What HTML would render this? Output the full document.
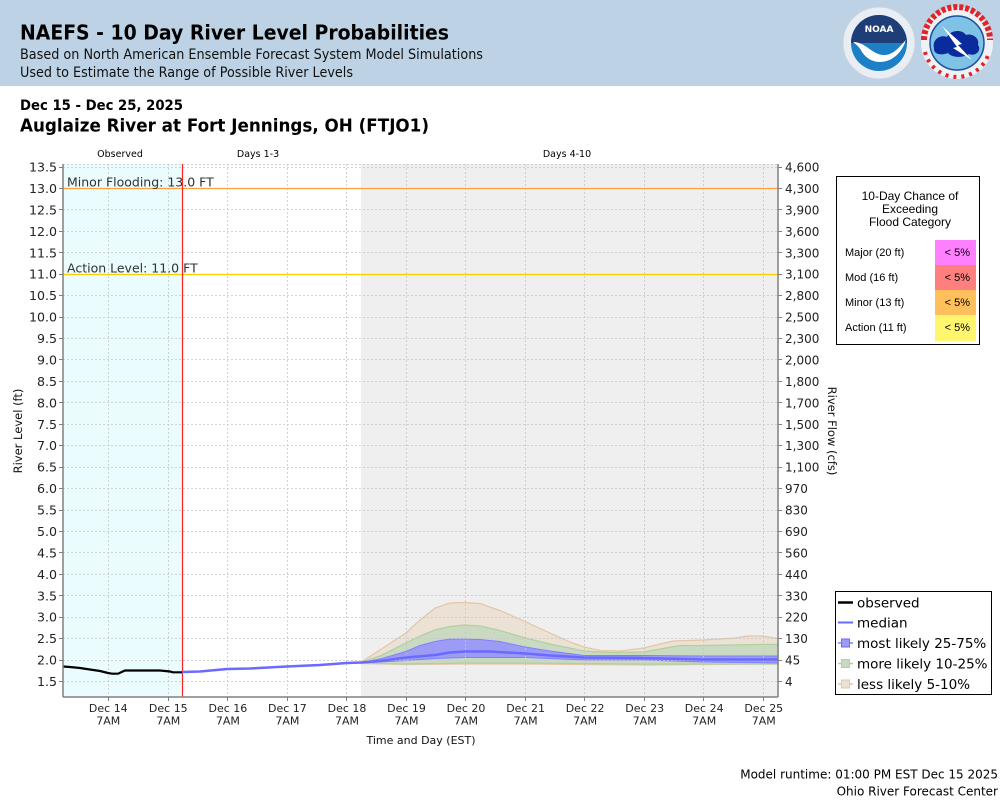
<!DOCTYPE html>
<html><head><meta charset="utf-8"><style>
html,body{margin:0;padding:0;background:#fff;}
svg{display:block;}
.dv{font-family:"DejaVu Sans","Liberation Sans",sans-serif;}
.ls{font-family:"Liberation Sans",Arial,sans-serif;}
</style></head><body>
<svg width="1000" height="800" viewBox="0 0 1000 800" xmlns="http://www.w3.org/2000/svg">
<!-- header -->
<rect x="0" y="0" width="1000" height="86" fill="#bdd3e5"/>
<text class="dv" x="20" y="39.5" font-size="20" font-weight="bold" fill="#000" textLength="429" lengthAdjust="spacingAndGlyphs">NAEFS - 10 Day River Level Probabilities</text>
<text class="dv" x="20" y="59" font-size="14" fill="#111" textLength="463" lengthAdjust="spacingAndGlyphs">Based on North American Ensemble Forecast System Model Simulations</text>
<text class="dv" x="20" y="77" font-size="14" fill="#111" textLength="333" lengthAdjust="spacingAndGlyphs">Used to Estimate the Range of Possible River Levels</text>
<!-- NOAA logo -->
<g>
<circle cx="879" cy="43" r="36" fill="#e8eef3" stroke="#c8d3dc" stroke-width="1"/>
<circle cx="879" cy="43" r="28" fill="#1b80c6"/>
<path d="M851,43 A28,28 0 0 1 907,43 Z" fill="#1f3e78"/>
<path d="M853,42 C866,42 872,55 884,55 C894,55 900,46 906,40 C902,52 893,62 880,62 C872,62 866,58 862,52 C860,48 857,45 853,42 Z" fill="#ffffff"/>
<text class="dv" x="879" y="32" font-size="9" font-weight="bold" fill="#fff" text-anchor="middle">NOAA</text>
</g>
<!-- NWS logo -->
<g>
<circle cx="957" cy="43" r="36" fill="#eef2f6"/>
<circle cx="957" cy="43" r="27" fill="#7ec3e6" stroke="#1d4f9c" stroke-width="1.5"/>
<path d="M934,48 C932,40 940,34 947,37 C950,30 962,29 966,35 C972,33 980,38 978,45 C982,50 976,57 969,54 C963,58 952,58 948,53 C941,56 933,54 934,48 Z" fill="#0a2b9c"/>
<path d="M942,26 L962,44 L958,45 L972,60 L953,48 L957,47 Z" fill="#ffffff"/>
<path d="M924,40 A33,33 0 0 1 990,40" fill="none" stroke="#e0242a" stroke-width="6" stroke-dasharray="4,2"/>
<path d="M925,52 A33,33 0 0 0 989,52" fill="none" stroke="#e0242a" stroke-width="4" stroke-dasharray="3,5"/>
</g>

<!-- titles -->
<text class="dv" x="20" y="110" font-size="14" font-weight="bold" fill="#000" textLength="163" lengthAdjust="spacingAndGlyphs">Dec 15 - Dec 25, 2025</text>
<text class="dv" x="20" y="131.7" font-size="18" font-weight="bold" fill="#000" textLength="409" lengthAdjust="spacingAndGlyphs">Auglaize River at Fort Jennings, OH (FTJO1)</text>

<text class="dv" x="120" y="157" font-size="9.5" fill="#000" text-anchor="middle">Observed</text>
<text class="dv" x="258" y="157" font-size="9.5" fill="#000" text-anchor="middle">Days 1-3</text>
<text class="dv" x="567" y="157" font-size="9.5" fill="#000" text-anchor="middle">Days 4-10</text>

<!-- plot backgrounds -->
<rect x="63" y="164" width="715" height="533" fill="#ffffff"/>
<rect x="63" y="164" width="119.5" height="533" fill="#eafcfd"/>
<rect x="361" y="164" width="417" height="533" fill="#efefef"/>

<!-- bands -->
<path d="M361,662 L380,650 L395,640 L406,633 L420,620 L435,608 L450,603 L465,602.5 L480,603.5 L500,610.5 L525,621.5 L550,633 L570,642 L584,647 L600,650.5 L620,651 L644,648 L660,644 L673,641 L703,640 L720,639 L735,638 L748,636 L763,636 L778,638.5 L778,664 L703,664.5 L644,665 L584,664.5 L525,664 L465,664 L406,664.5 L361,663.5 Z" fill="#ebe1d4" stroke="#e3c7a6" stroke-width="1.2"/>
<path d="M361,662.5 L380,656 L406,643 L420,636 L435,630 L450,626.5 L465,625 L480,626 L500,630.5 L525,638 L550,644 L584,651 L610,652.5 L644,652 L660,649 L680,645.5 L703,645.5 L730,645 L763,644.3 L778,644.5 L778,664 L703,664 L644,664 L584,663.5 L525,663 L465,663 L406,664 L361,663.2 Z" fill="#c9d9c2" stroke="#afd19f" stroke-width="1.2"/>
<path d="M361,662.5 L380,659 L406,651.5 L420,645.5 L435,641.5 L450,639 L465,639 L480,639.5 L500,641.5 L525,647 L550,651 L584,655.5 L644,655.5 L703,656 L778,656 L778,663 L703,662 L644,660 L584,660 L525,657.5 L465,657.5 L435,658.5 L406,660.5 L380,662 L361,663 Z" fill="#9c9cf6" stroke="#8080ff" stroke-width="1"/>

<!-- grid -->
<g stroke="#c6c6c6" stroke-width="0.8" stroke-dasharray="2,2" fill="none">
<line x1="63" y1="164.5" x2="778" y2="164.5"/>
<line x1="63" y1="167.5" x2="778" y2="167.5"/>
<line x1="63" y1="209.5" x2="778" y2="209.5"/>
<line x1="63" y1="231.5" x2="778" y2="231.5"/>
<line x1="63" y1="252.5" x2="778" y2="252.5"/>
<line x1="63" y1="295.5" x2="778" y2="295.5"/>
<line x1="63" y1="317.5" x2="778" y2="317.5"/>
<line x1="63" y1="338.5" x2="778" y2="338.5"/>
<line x1="63" y1="359.5" x2="778" y2="359.5"/>
<line x1="63" y1="381.5" x2="778" y2="381.5"/>
<line x1="63" y1="402.5" x2="778" y2="402.5"/>
<line x1="63" y1="424.5" x2="778" y2="424.5"/>
<line x1="63" y1="445.5" x2="778" y2="445.5"/>
<line x1="63" y1="467.5" x2="778" y2="467.5"/>
<line x1="63" y1="488.5" x2="778" y2="488.5"/>
<line x1="63" y1="510.5" x2="778" y2="510.5"/>
<line x1="63" y1="531.5" x2="778" y2="531.5"/>
<line x1="63" y1="552.5" x2="778" y2="552.5"/>
<line x1="63" y1="574.5" x2="778" y2="574.5"/>
<line x1="63" y1="595.5" x2="778" y2="595.5"/>
<line x1="63" y1="617.5" x2="778" y2="617.5"/>
<line x1="63" y1="638.5" x2="778" y2="638.5"/>
<line x1="63" y1="660.5" x2="778" y2="660.5"/>
<line x1="63" y1="681.5" x2="778" y2="681.5"/>
<line x1="108.5" y1="164" x2="108.5" y2="697"/>
<line x1="168.5" y1="164" x2="168.5" y2="697"/>
<line x1="227.5" y1="164" x2="227.5" y2="697"/>
<line x1="287.5" y1="164" x2="287.5" y2="697"/>
<line x1="346.5" y1="164" x2="346.5" y2="697"/>
<line x1="406.5" y1="164" x2="406.5" y2="697"/>
<line x1="465.5" y1="164" x2="465.5" y2="697"/>
<line x1="525.5" y1="164" x2="525.5" y2="697"/>
<line x1="584.5" y1="164" x2="584.5" y2="697"/>
<line x1="644.5" y1="164" x2="644.5" y2="697"/>
<line x1="703.5" y1="164" x2="703.5" y2="697"/>
<line x1="763.5" y1="164" x2="763.5" y2="697"/>
</g>

<!-- flood lines -->
<line x1="63" y1="188.5" x2="778" y2="188.5" stroke="#ffa040" stroke-width="1.2"/>
<line x1="63" y1="274.5" x2="778" y2="274.5" stroke="#ffcc00" stroke-width="1.2"/>
<text class="dv" x="67" y="186.5" font-size="12.5" fill="#333">Minor Flooding: 13.0 FT</text>
<text class="dv" x="67" y="272.3" font-size="12.5" fill="#333">Action Level: 11.0 FT</text>

<!-- red now line -->
<line x1="182.5" y1="164" x2="182.5" y2="697" stroke="#ff2020" stroke-width="1.2"/>

<!-- median -->
<polyline points="182,672 200,671.5 227,669 250,668.5 287,666.5 320,665 347,663 361,662.5 380,661 406,657.5 435,655 450,652.5 465,651.5 490,651.5 525,653.5 550,655.5 584,657.5 644,658 703,659.5 763,659.5 778,659.5" fill="none" stroke="#6a6aff" stroke-width="2.5"/>
<!-- observed -->
<polyline points="63,666.5 70,667 80,668 90,669.5 100,671 108,673 112,673.7 118,673.7 125,670.5 135,670.5 160,670.5 170,671.5 173,672.3 182,672.3" fill="none" stroke="#000" stroke-width="2.2"/>

<!-- axes -->
<g stroke="#808080" stroke-width="1.5" fill="none">
<line x1="63" y1="164" x2="63" y2="697"/>
<line x1="778" y1="164" x2="778" y2="697"/>
<line x1="63" y1="697" x2="778" y2="697"/>
</g>
<g stroke="#808080" stroke-width="1">
<path d="M59,167.5H63M59,188.5H63M59,209.5H63M59,231.5H63M59,252.5H63M59,274.5H63M59,295.5H63M59,317.5H63M59,338.5H63M59,359.5H63M59,381.5H63M59,402.5H63M59,424.5H63M59,445.5H63M59,467.5H63M59,488.5H63M59,510.5H63M59,531.5H63M59,552.5H63M59,574.5H63M59,595.5H63M59,617.5H63M59,638.5H63M59,660.5H63M59,681.5H63"/>
<path d="M778,167.5H782M778,188.5H782M778,209.5H782M778,231.5H782M778,252.5H782M778,274.5H782M778,295.5H782M778,317.5H782M778,338.5H782M778,359.5H782M778,381.5H782M778,402.5H782M778,424.5H782M778,445.5H782M778,467.5H782M778,488.5H782M778,510.5H782M778,531.5H782M778,552.5H782M778,574.5H782M778,595.5H782M778,617.5H782M778,638.5H782M778,660.5H782M778,681.5H782"/>
<path d="M108.5,697V701M168.5,697V701M227.5,697V701M287.5,697V701M346.5,697V701M406.5,697V701M465.5,697V701M525.5,697V701M584.5,697V701M644.5,697V701M703.5,697V701M763.5,697V701"/>
</g>

<!-- left tick labels -->
<g class="dv" font-size="12.6" fill="#222" text-anchor="end">
<text x="57" y="171.5">13.5</text>
<text x="57" y="192.9">13.0</text>
<text x="57" y="214.4">12.5</text>
<text x="57" y="235.8">12.0</text>
<text x="57" y="257.3">11.5</text>
<text x="57" y="278.7">11.0</text>
<text x="57" y="300.1">10.5</text>
<text x="57" y="321.6">10.0</text>
<text x="57" y="343">9.5</text>
<text x="57" y="364.5">9.0</text>
<text x="57" y="385.9">8.5</text>
<text x="57" y="407.3">8.0</text>
<text x="57" y="428.8">7.5</text>
<text x="57" y="450.2">7.0</text>
<text x="57" y="471.7">6.5</text>
<text x="57" y="493.1">6.0</text>
<text x="57" y="514.5">5.5</text>
<text x="57" y="536">5.0</text>
<text x="57" y="557.4">4.5</text>
<text x="57" y="578.9">4.0</text>
<text x="57" y="600.3">3.5</text>
<text x="57" y="621.7">3.0</text>
<text x="57" y="643.2">2.5</text>
<text x="57" y="664.6">2.0</text>
<text x="57" y="686.1">1.5</text>
</g>
<!-- right tick labels -->
<g class="dv" font-size="12" fill="#222" text-anchor="start">
<text x="785" y="171.5">4,600</text>
<text x="785" y="192.9">4,300</text>
<text x="785" y="214.4">3,900</text>
<text x="785" y="235.8">3,600</text>
<text x="785" y="257.3">3,300</text>
<text x="785" y="278.7">3,100</text>
<text x="785" y="300.1">2,800</text>
<text x="785" y="321.6">2,500</text>
<text x="785" y="343">2,300</text>
<text x="785" y="364.5">2,000</text>
<text x="785" y="385.9">1,800</text>
<text x="785" y="407.3">1,700</text>
<text x="785" y="428.8">1,500</text>
<text x="785" y="450.2">1,300</text>
<text x="785" y="471.7">1,100</text>
<text x="785" y="493.1">970</text>
<text x="785" y="514.5">830</text>
<text x="785" y="536">690</text>
<text x="785" y="557.4">560</text>
<text x="785" y="578.9">440</text>
<text x="785" y="600.3">330</text>
<text x="785" y="621.7">220</text>
<text x="785" y="643.2">130</text>
<text x="785" y="664.6">45</text>
<text x="785" y="686.1">4</text>
</g>

<!-- x tick labels -->
<g class="dv" font-size="11" fill="#222" text-anchor="middle">
<text x="108.3" y="712">Dec 14</text><text x="108.3" y="724.5">7AM</text>
<text x="168.3" y="712">Dec 15</text><text x="168.3" y="724.5">7AM</text>
<text x="227.9" y="712">Dec 16</text><text x="227.9" y="724.5">7AM</text>
<text x="287.4" y="712">Dec 17</text><text x="287.4" y="724.5">7AM</text>
<text x="347" y="712">Dec 18</text><text x="347" y="724.5">7AM</text>
<text x="406.5" y="712">Dec 19</text><text x="406.5" y="724.5">7AM</text>
<text x="466" y="712">Dec 20</text><text x="466" y="724.5">7AM</text>
<text x="525.6" y="712">Dec 21</text><text x="525.6" y="724.5">7AM</text>
<text x="585.1" y="712">Dec 22</text><text x="585.1" y="724.5">7AM</text>
<text x="644.7" y="712">Dec 23</text><text x="644.7" y="724.5">7AM</text>
<text x="704.2" y="712">Dec 24</text><text x="704.2" y="724.5">7AM</text>
<text x="763.8" y="712">Dec 25</text><text x="763.8" y="724.5">7AM</text>
</g>
<text class="dv" x="421" y="744" font-size="11" fill="#111" text-anchor="middle">Time and Day (EST)</text>
<text class="dv" transform="translate(22,431) rotate(-90)" font-size="11.5" fill="#111" text-anchor="middle">River Level (ft)</text>
<text class="dv" transform="translate(828,431) rotate(90)" font-size="11.5" fill="#111" text-anchor="middle">River Flow (cfs)</text>

<!-- flood category box -->
<rect x="836.5" y="176.5" width="143" height="168" fill="#fff" stroke="#000" stroke-width="1"/>
<g class="ls" font-size="12" fill="#000" text-anchor="middle">
<text x="910" y="200">10-Day Chance of</text>
<text x="910" y="213">Exceeding</text>
<text x="910" y="226">Flood Category</text>
</g>
<rect x="935" y="240" width="41" height="25" fill="#ff80ff"/>
<rect x="935" y="265" width="41" height="25" fill="#ff7f7f"/>
<rect x="935" y="290" width="41" height="25" fill="#ffbf5a"/>
<rect x="935" y="315" width="41" height="26" fill="#fff66e"/>
<g class="ls" font-size="11" fill="#000">
<text x="845" y="256">Major (20 ft)</text>
<text x="845" y="281">Mod (16 ft)</text>
<text x="845" y="306">Minor (13 ft)</text>
<text x="845" y="331">Action (11 ft)</text>
</g>
<g class="ls" font-size="11" fill="#000" text-anchor="end">
<text x="970" y="256">&lt; 5%</text>
<text x="970" y="281">&lt; 5%</text>
<text x="970" y="306">&lt; 5%</text>
<text x="970" y="331">&lt; 5%</text>
</g>

<!-- legend -->
<rect x="835.5" y="591.5" width="156" height="103" fill="#fff" stroke="#000" stroke-width="1"/>
<line x1="838" y1="602.5" x2="853" y2="602.5" stroke="#000" stroke-width="2.5"/>
<line x1="838" y1="622.5" x2="853" y2="622.5" stroke="#6a6aff" stroke-width="2"/>
<line x1="838" y1="643" x2="853" y2="643" stroke="#8080ff" stroke-width="1.5"/>
<rect x="841.5" y="639" width="8" height="8" fill="#9c9cf6" stroke="#6a6aff"/>
<line x1="838" y1="663.5" x2="853" y2="663.5" stroke="#afd19f" stroke-width="1.5"/>
<rect x="841.5" y="659.5" width="8" height="8" fill="#c9d9c2" stroke="#afd19f"/>
<line x1="838" y1="684" x2="853" y2="684" stroke="#e3c7a6" stroke-width="1.5"/>
<rect x="841.5" y="680" width="8" height="8" fill="#ebe1d4" stroke="#e3c7a6"/>
<g class="dv" font-size="13.5" fill="#000">
<text x="857" y="607.5">observed</text>
<text x="857" y="627.5">median</text>
<text x="857" y="648">most likely 25-75%</text>
<text x="857" y="668.5">more likely 10-25%</text>
<text x="857" y="689">less likely 5-10%</text>
</g>

<!-- footer -->
<g class="dv" font-size="12" fill="#000" text-anchor="end">
<text x="998" y="778.5">Model runtime: 01:00 PM EST Dec 15 2025</text>
<text x="998" y="795.5">Ohio River Forecast Center</text>
</g>
</svg>
</body></html>
